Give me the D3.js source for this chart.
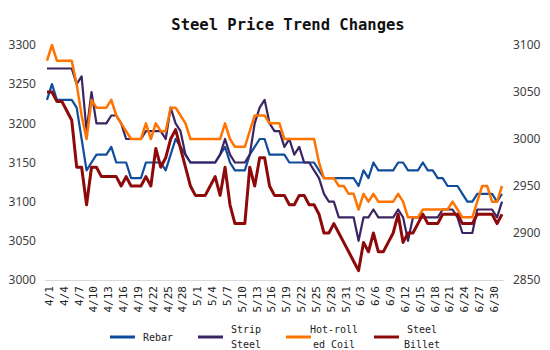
<!DOCTYPE html>
<html>
<head>
<meta charset="utf-8">
<script src="https://cdn.jsdelivr.net/npm/d3@7"></script>
<style>
  body { margin: 0; background: #fff; }
  .mono { font-family: "DejaVu Sans Mono", "Liberation Mono", monospace; }
</style>
</head>
<body>
<div id="chart"></div>
<script>
// daily prices 4/1 .. 7/2
var rebar = [
  3230,3250,3230,3230,3230,3230,3220,3180,3140,3150,
  3160,3160,3160,3170,3150,3150,3150,3130,3130,3130,
  3150,3150,3150,3150,3140,3160,3180,3170,3160,3150,
  3150,3150,3150,3150,3150,3160,3170,3150,3140,3140,
  3140,3160,3170,3180,3180,3160,3160,3160,3160,3150,
  3150,3150,3150,3150,3150,3140,3130,3130,3130,3130,
  3130,3130,3130,3120,3140,3130,3150,3140,3140,3140,
  3140,3150,3150,3140,3140,3140,3150,3140,3140,3130,
  3130,3120,3120,3120,3110,3100,3100,3110,3110,3110,
  3110,3100,3110
];
var strip = [
  3270,3270,3270,3270,3270,3270,3250,3260,3190,3240,
  3200,3200,3200,3210,3210,3200,3180,3180,3180,3180,
  3190,3190,3190,3190,3180,3220,3200,3190,3160,3150,
  3150,3150,3150,3150,3150,3160,3180,3160,3150,3150,
  3150,3160,3200,3220,3230,3200,3190,3190,3170,3180,
  3160,3170,3150,3150,3140,3130,3110,3100,3100,3080,
  3080,3080,3080,3050,3080,3080,3090,3080,3080,3080,
  3080,3090,3080,3050,3080,3080,3080,3080,3080,3080,
  3090,3090,3090,3080,3060,3060,3060,3090,3090,3090,
  3090,3080,3100
];
var hotRolled = [
  3280,3300,3280,3280,3280,3280,3250,3210,3180,3230,
  3220,3220,3220,3230,3210,3200,3190,3180,3180,3180,
  3200,3180,3200,3190,3190,3220,3220,3210,3200,3180,
  3180,3180,3180,3180,3180,3180,3200,3180,3170,3170,
  3170,3190,3210,3210,3210,3200,3200,3200,3180,3180,
  3180,3180,3180,3180,3180,3150,3130,3130,3130,3120,
  3120,3110,3110,3090,3110,3100,3110,3100,3100,3100,
  3100,3110,3100,3080,3080,3080,3090,3090,3090,3090,
  3090,3090,3100,3090,3080,3080,3080,3100,3120,3120,
  3100,3100,3120
];
// billet is read on the right axis
var billet = [
  3050,3050,3040,3040,3030,3020,2970,2970,2930,2970,
  2970,2960,2960,2960,2960,2950,2960,2950,2950,2950,
  2960,2950,2990,2970,2980,3000,3010,2990,2970,2950,
  2940,2940,2940,2950,2960,2940,2970,2930,2910,2910,
  2910,2970,2950,2980,2980,2950,2940,2940,2940,2930,
  2930,2940,2940,2930,2930,2920,2900,2900,2910,2900,
  2890,2880,2870,2860,2890,2880,2900,2880,2880,2890,
  2900,2920,2890,2900,2900,2910,2920,2910,2910,2910,
  2920,2920,2920,2920,2910,2910,2910,2920,2920,2920,
  2920,2910,2920
];
var leftTicks = [3000, 3050, 3100, 3150, 3200, 3250, 3300];
var rightTicks = [2850, 2900, 2950, 3000, 3050, 3100];
var seriesNames = [["Rebar"], ["Strip", "Steel"], ["Hot-roll", "ed Coil"], ["Steel", "Billet"]];

var fmt = d3.timeFormat("%-m/%-d");
var dates = d3.timeDay.range(new Date(2023, 3, 1), new Date(2023, 6, 3)).map(fmt);

function drawChart() {
    var W = 550, H = 350;
    var svg = d3.select("#chart").append("svg")
        .attr("width", W).attr("height", H);

    // scales
    var x = d3.scalePoint().domain(dates).range([47, 502]);
    var yL = d3.scaleLinear().domain([3000, 3300]).range([280, 45]);
    var yR = d3.scaleLinear().domain([2850, 3100]).range([280, 45]);

    // title
    svg.append("text")
        .attr("class", "mono")
        .attr("x", 288).attr("y", 30)
        .attr("text-anchor", "middle")
        .style("font-size", "15.5px").style("font-weight", "bold")
        .attr("fill", "#111")
        .text("Steel Price Trend Changes");

    // bottom axis line
    svg.append("line")
        .attr("x1", 45).attr("x2", 504)
        .attr("y1", 280.5).attr("y2", 280.5)
        .attr("stroke", "#d9d9d9").attr("stroke-width", 1);

    // y tick labels
    svg.selectAll(".yl").data(leftTicks).enter().append("text")
        .attr("x", 36).attr("y", function(d) { return yL(d); })
        .attr("dy", "0.35em").attr("text-anchor", "end")
        .style("font-family", "'Noto Sans', sans-serif").style("font-size", "12px")
        .attr("fill", "#404040")
        .text(function(d) { return d; });
    svg.selectAll(".yr").data(rightTicks).enter().append("text")
        .attr("x", 513).attr("y", function(d) { return yR(d); })
        .attr("dy", "0.35em").attr("text-anchor", "start")
        .style("font-family", "'Noto Sans', sans-serif").style("font-size", "12px")
        .attr("fill", "#404040")
        .text(function(d) { return d; });

    // x tick labels, every third day
    var tickDates = dates.filter(function(d, i) { return i % 3 === 0; });
    svg.selectAll(".xl").data(tickDates).enter().append("text")
        .attr("class", "mono")
        .attr("transform", function(d) { return "translate(" + (x(d) + 2) + ",286) rotate(-90)"; })
        .attr("dy", "0.35em").attr("text-anchor", "end")
        .style("font-size", "11px")
        .attr("fill", "#222")
        .text(function(d) { return d; });

    // lines
    var series = [
        { vals: rebar, y: yL, color: "#0f4c9c", w: 2.2 },
        { vals: strip, y: yL, color: "#3b2462", w: 2.2 },
        { vals: hotRolled, y: yL, color: "#ff7400", w: 2.5 },
        { vals: billet, y: yR, color: "#8e0a0a", w: 3 }
    ];
    series.forEach(function(s) {
        var line = d3.line()
            .x(function(d, i) { return x(dates[i]); })
            .y(function(d) { return s.y(d); });
        svg.append("path")
            .datum(s.vals)
            .attr("fill", "none")
            .attr("stroke", s.color)
            .attr("stroke-width", s.w)
            .attr("stroke-linejoin", "round")
            .attr("d", line);
    });

    // legend
    var lg = svg.selectAll(".lg").data(series).enter().append("g")
        .attr("transform", function(d, i) { return "translate(" + (110 + i * 88) + ",0)"; });
    lg.append("line")
        .attr("x1", 0).attr("x2", 25).attr("y1", 337).attr("y2", 337)
        .attr("stroke", function(d) { return d.color; })
        .attr("stroke-width", 3);
    lg.each(function(d, i) {
        var names = seriesNames[i];
        var g = d3.select(this);
        names.forEach(function(n, k) {
            g.append("text")
                .attr("class", "mono")
                .attr("x", 48)
                .attr("y", names.length === 1 ? 337 : 329 + k * 15)
                .attr("dy", "0.35em").attr("text-anchor", "middle")
                .style("font-size", "10px")
                .attr("fill", "#222")
                .text(n);
        });
    });
}

drawChart();
</script>
</body>
</html>
